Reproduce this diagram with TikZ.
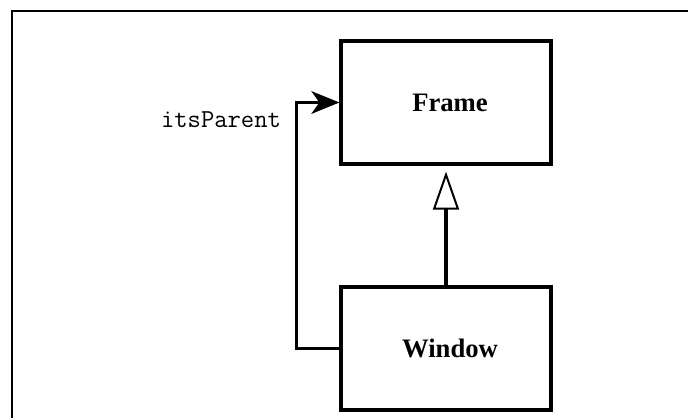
\documentclass[tikz,border=0pt]{standalone}
\usepackage{fontspec}
\setmainfont{Liberation Serif}
\usetikzlibrary{arrows.meta}

\tikzset{
  classbox/.style={draw, line width=2.4, minimum width=157.5pt, minimum height=92.25pt, inner sep=0pt, font=\fontsize{20}{24}\selectfont\bfseries},
  link/.style={line width=2.4}
}

\begin{document}
\begin{tikzpicture}[x=0.75pt,y=0.75pt,yscale=-1,xscale=1]
\useasboundingbox (0,0) rectangle (688,418);

%Straight Lines: page edge
\draw [line width=1.5]  (12,418) -- (12,10.5) -- (688,10.5) ;

%Shape: Rectangle
\node (frame) [classbox] at (446,102.5) {\hspace*{6pt}Frame};
%Shape: Rectangle
\node (window) [classbox] at (446,348.5) {\hspace*{6pt}Window};

%Straight Lines: association
\draw [link, -{Stealth[length=21pt,width=17pt,inset=6pt]}]  (window.west) -- ([xshift=-32.25pt]window.west) |- (frame.west) ;
%Straight Lines: generalization
\draw [link, -{Triangle[open,length=28.5pt,width=19.5pt,line width=1.5pt]}, shorten >=4.5pt]  (window.north) -- (frame.south) ;

% Text Node
\node (role) at (221,120) {\ttfamily\fontsize{19.4}{22}\selectfont itsParent};

\end{tikzpicture}
\end{document}
